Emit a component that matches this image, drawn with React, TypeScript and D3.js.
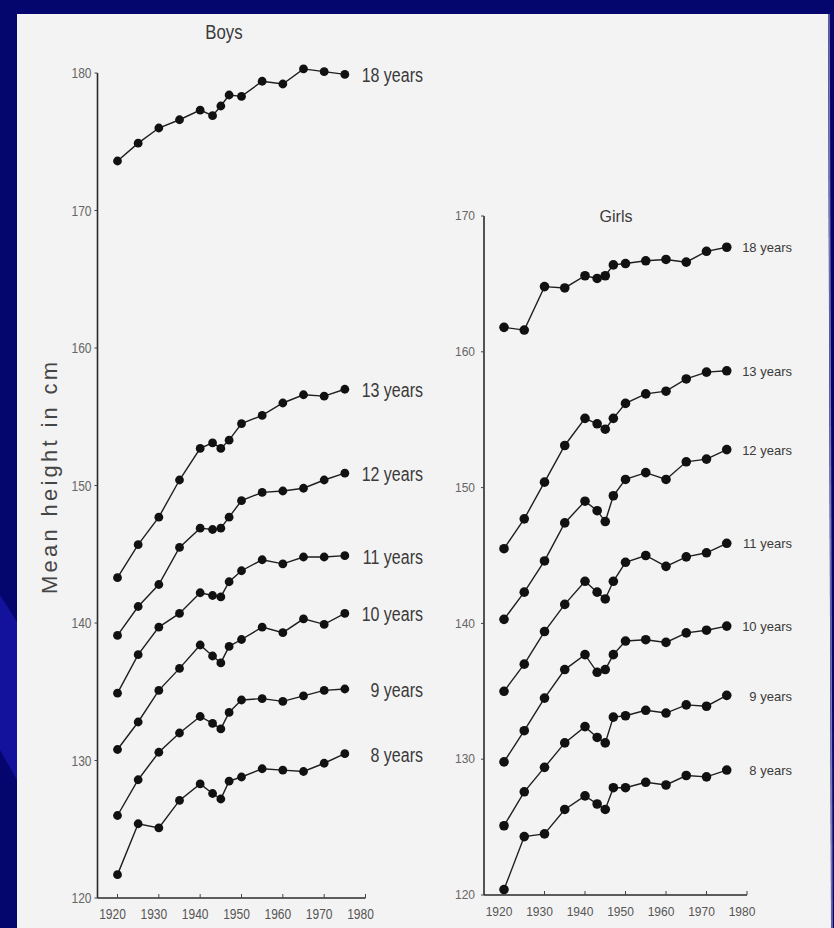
import React from "react";
import * as d3 from "d3";

// survey years (same for both panels)
const years = [1920, 1925, 1930, 1935, 1940, 1943, 1945, 1947, 1950, 1955, 1960, 1965, 1970, 1975];
const ageLabels = ["18 years", "13 years", "12 years", "11 years", "10 years", "9 years", "8 years"];

const boys18 = [173.6, 174.9, 176.0, 176.6, 177.3, 176.9, 177.6, 178.4, 178.3, 179.4, 179.2, 180.3, 180.1, 179.9];
const boys13 = [143.3, 145.7, 147.7, 150.4, 152.7, 153.1, 152.7, 153.3, 154.5, 155.1, 156.0, 156.6, 156.5, 157.0];
const boys12 = [139.1, 141.2, 142.8, 145.5, 146.9, 146.8, 146.9, 147.7, 148.9, 149.5, 149.6, 149.8, 150.4, 150.9];
const boys11 = [134.9, 137.7, 139.7, 140.7, 142.2, 142.0, 141.9, 143.0, 143.8, 144.6, 144.3, 144.8, 144.8, 144.9];
const boys10 = [130.8, 132.8, 135.1, 136.7, 138.4, 137.6, 137.1, 138.3, 138.8, 139.7, 139.3, 140.3, 139.9, 140.7];
const boys9 = [126.0, 128.6, 130.6, 132.0, 133.2, 132.7, 132.3, 133.5, 134.4, 134.5, 134.3, 134.7, 135.1, 135.2];
const boys8 = [121.7, 125.4, 125.1, 127.1, 128.3, 127.6, 127.2, 128.5, 128.8, 129.4, 129.3, 129.2, 129.8, 130.5];

const girls18 = [161.8, 161.6, 164.8, 164.7, 165.6, 165.4, 165.6, 166.4, 166.5, 166.7, 166.8, 166.6, 167.4, 167.7];
const girls13 = [145.5, 147.7, 150.4, 153.1, 155.1, 154.7, 154.3, 155.1, 156.2, 156.9, 157.1, 158.0, 158.5, 158.6];
const girls12 = [140.3, 142.3, 144.6, 147.4, 149.0, 148.3, 147.5, 149.4, 150.6, 151.1, 150.6, 151.9, 152.1, 152.8];
const girls11 = [135.0, 137.0, 139.4, 141.4, 143.1, 142.3, 141.8, 143.1, 144.5, 145.0, 144.2, 144.9, 145.2, 145.9];
const girls10 = [129.8, 132.1, 134.5, 136.6, 137.7, 136.4, 136.6, 137.7, 138.7, 138.8, 138.6, 139.3, 139.5, 139.8];
const girls9 = [125.1, 127.6, 129.4, 131.2, 132.4, 131.6, 131.2, 133.1, 133.2, 133.6, 133.4, 134.0, 133.9, 134.7];
const girls8 = [120.4, 124.3, 124.5, 126.3, 127.3, 126.7, 126.3, 127.9, 127.9, 128.3, 128.1, 128.8, 128.7, 129.2];

const xTicks = [1920, 1930, 1940, 1950, 1960, 1970, 1980];
const boysYTicks = [120, 130, 140, 150, 160, 170, 180];
const girlsYTicks = [120, 130, 140, 150, 160, 170];

const boysSeries = [boys18, boys13, boys12, boys11, boys10, boys9, boys8];
const girlsSeries = [girls18, girls13, girls12, girls11, girls10, girls9, girls8];

const FONT = "'Liberation Sans', Arial, sans-serif";

// text squeezed horizontally (boys panel used a condensed face)
function T(props: any) {
  const { x, y, sx = 1, anchor = "start", size, fill, dy = "0", children } = props;
  return (
    <text transform={`translate(${x},${y}) scale(${sx},1)`} dy={dy} textAnchor={anchor}
      fontFamily={FONT} fontSize={size} fill={fill}>{children}</text>
  );
}

function Panel(props: any) {
  const { series, x, y, yTicks, r, sx, tickSize, labelSize, labelRight, tickGap, title, titleX, titleY, titleSize } = props;
  const [x0] = x.range();
  const [y0] = y.range();
  const axisLeft = x0 - 20;
  const line = d3.line<number>()
    .x((_, i) => x(years[i]))
    .y(d => y(d));

  return (
    <g>
      <T x={titleX} y={titleY} sx={sx} anchor="middle" size={titleSize} fill="#3a3a3a">{title}</T>
      <line x1={axisLeft} x2={axisLeft} y1={y(yTicks[yTicks.length - 1])} y2={y0} stroke="#2a2a2a" strokeWidth={1.6} />
      <line x1={axisLeft} x2={x(1980)} y1={y0} y2={y0} stroke="#2a2a2a" strokeWidth={1.6} />
      {yTicks.map((t: number) => (
        <g key={t}>
          <line x1={axisLeft - 3} x2={axisLeft} y1={y(t)} y2={y(t)} stroke="#444" strokeWidth={1} />
          <T x={axisLeft - tickGap} y={y(t)} dy="0.35em" sx={sx} anchor="end" size={tickSize} fill="#666">{t}</T>
        </g>
      ))}
      {xTicks.map(t => (
        <g key={t}>
          <line x1={x(t)} x2={x(t)} y1={y0} y2={y0 - 4} stroke="#444" strokeWidth={1} />
          <T x={x(t) - 5} y={y0 + 21} sx={sx} anchor="middle" size={tickSize} fill="#555">{t}</T>
        </g>
      ))}
      {series.map((s: number[], k: number) => (
        <g key={k}>
          <path d={line(s) || ""} fill="none" stroke="#1e1e1e" strokeWidth={1.4} />
          {s.map((v, i) => (
            <circle key={i} cx={x(years[i])} cy={y(v)} r={r} fill="#111" />
          ))}
          <T x={labelRight} y={y(s[s.length - 1])} dy="0.4em" sx={sx} anchor="end" size={labelSize} fill="#3a3a3a">{ageLabels[k]}</T>
        </g>
      ))}
    </g>
  );
}

export default function App() {
  const boysX = d3.scaleLinear().domain([1920, 1980]).range([117.5, 365.5]);
  const boysY = d3.scaleLinear().domain([120, 180]).range([898, 73]);
  const girlsX = d3.scaleLinear().domain([1920, 1980]).range([504, 747]);
  const girlsY = d3.scaleLinear().domain([120, 170]).range([895, 216]);

  return (
    <svg width={834} height={928} style={{ position: "absolute", left: 0, top: 0 }}>
      <rect width={834} height={928} fill="#05056e" />
      <polygon points="0,595 17,622 17,780 0,750" fill="#12129c" />
      <polygon points="17,14 828,14 831,928 17,928" fill="#f4f3f3" />
      <line x1={829} y1={14} x2={832} y2={928} stroke="#7a78b8" strokeWidth={1.5} />

      <text transform="translate(57,478) rotate(-90)" textAnchor="middle" fontFamily={FONT} fontSize={22} textLength={232} lengthAdjust="spacing" fill="#454545">Mean height in cm</text>

      <Panel series={boysSeries} x={boysX} y={boysY} yTicks={boysYTicks} r={4.4} sx={0.8}
        tickSize={15} labelSize={20} labelRight={423} tickGap={6}
        title="Boys" titleX={224} titleY={39} titleSize={21} />
      <Panel series={girlsSeries} x={girlsX} y={girlsY} yTicks={girlsYTicks} r={4.8} sx={1}
        tickSize={12} labelSize={13} labelRight={792} tickGap={9}
        title="Girls" titleX={616} titleY={222} titleSize={16} />
    </svg>
  );
}
